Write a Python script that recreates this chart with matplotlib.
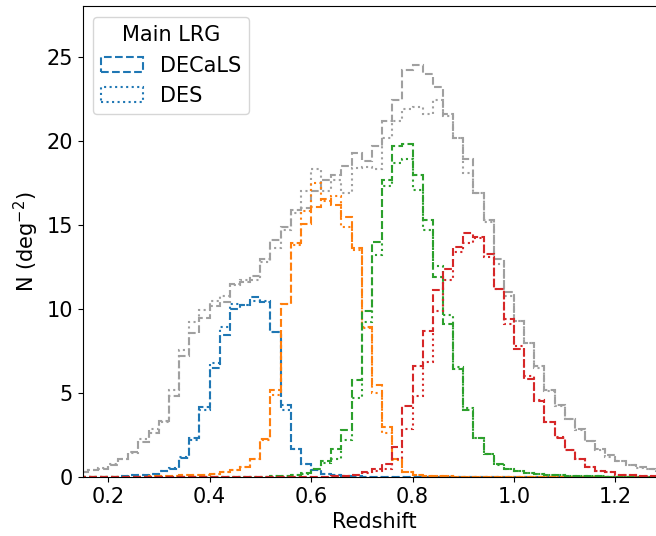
import numpy as np
import matplotlib
matplotlib.use('Agg')
import matplotlib.pyplot as plt

# --- bins: 0.02 wide redshift bins, left edges 0.14 ... 1.28 ---
z_lo, z_hi, dz = 0.14, 1.30, 0.02

# --- N(z) in deg^-2 (DECaLS = dashed, DES = dotted) ---
all_decals = [0.28, 0.42, 0.5, 0.7, 1.05, 1.5, 2.1, 2.65, 3.35, 4.8,
              7.2, 8.55, 9.45, 10.2, 10.4, 11.5, 11.6, 11.95, 12.95, 14.1,
              14.9, 15.9, 16.0, 17.0, 17.65, 18.0, 18.5, 19.25, 18.8, 19.7,
              21.2, 22.45, 24.2, 24.5, 24.0, 23.2, 21.6, 20.2, 18.9, 16.9,
              15.3, 13.0, 11.0, 9.3, 8.0, 6.6, 5.2, 4.3, 3.45, 2.85,
              2.15, 1.65, 1.3, 0.95, 0.7, 0.58, 0.45, 0.35]
all_des = [0.3, 0.42, 0.55, 0.8, 1.1, 1.45, 2.25, 2.85, 3.3, 5.2,
           7.55, 9.25, 9.95, 10.5, 10.8, 11.45, 11.7, 11.7, 12.8, 13.6,
           14.7, 15.7, 17.0, 18.3, 17.0, 17.65, 16.9, 18.4, 18.45, 18.3,
           20.2, 21.2, 21.9, 22.0, 21.6, 22.45, 21.5, 20.2, 18.1, 16.9,
           15.2, 12.7, 10.8, 9.3, 7.95, 6.5, 5.1, 4.25, 3.45, 2.8,
           2.15, 1.6, 1.2, 0.95, 0.7, 0.55, 0.45, 0.35]

bin1_decals = [0, 0, 0.01, 0.02, 0.05, 0.1, 0.15, 0.2, 0.35, 0.5,
               1.15, 2.3, 4.15, 6.5, 8.45, 10.0, 10.25, 10.7, 10.4, 8.6,
               4.3, 1.65, 0.8, 0.4, 0.2, 0.12, 0.08, 0.05, 0.03, 0.02,
               0.01, 0, 0, 0, 0, 0, 0, 0, 0, 0,
               0, 0, 0, 0, 0, 0, 0, 0, 0, 0,
               0, 0, 0, 0, 0, 0, 0, 0]
bin1_des = [0, 0, 0.01, 0.02, 0.05, 0.1, 0.15, 0.2, 0.35, 0.55,
            1.2, 2.2, 4.0, 6.8, 8.9, 10.3, 10.25, 10.45, 10.5, 8.65,
            4.0, 1.65, 0.75, 0.4, 0.2, 0.12, 0.08, 0.05, 0.03, 0.02,
            0.01, 0, 0, 0, 0, 0, 0, 0, 0, 0,
            0, 0, 0, 0, 0, 0, 0, 0, 0, 0,
            0, 0, 0, 0, 0, 0, 0, 0]

bin2_decals = [0, 0, 0, 0, 0.01, 0.02, 0.03, 0.04, 0.05, 0.07,
               0.1, 0.12, 0.15, 0.2, 0.28, 0.4, 0.6, 1.1, 2.25, 5.2,
               10.3, 13.9, 15.05, 16.05, 16.55, 16.2, 15.5, 13.6, 8.95, 5.45,
               3.0, 1.05, 0.3, 0.12, 0.08, 0.05, 0.04, 0.03, 0.03, 0.02,
               0.02, 0.02, 0.02, 0.01, 0.01, 0.01, 0.01, 0.01, 0.01, 0.01,
               0, 0, 0, 0, 0, 0, 0, 0]
bin2_des = [0, 0, 0, 0, 0.01, 0.02, 0.03, 0.04, 0.05, 0.07,
            0.1, 0.12, 0.15, 0.2, 0.28, 0.4, 0.6, 1.05, 2.2, 4.9,
            10.3, 13.8, 15.8, 17.5, 16.4, 16.7, 14.9, 13.5, 8.85, 5.0,
            2.6, 1.0, 0.3, 0.12, 0.08, 0.05, 0.04, 0.03, 0.03, 0.02,
            0.02, 0.02, 0.02, 0.01, 0.01, 0.01, 0.01, 0.01, 0.01, 0.01,
            0, 0, 0, 0, 0, 0, 0, 0]

bin3_decals = [0, 0, 0, 0, 0, 0, 0, 0, 0, 0,
               0, 0, 0, 0, 0, 0, 0.01, 0.02, 0.03, 0.04,
               0.06, 0.1, 0.25, 0.45, 0.95, 1.65, 2.8, 5.75, 9.85, 14.0,
               17.7, 19.7, 19.8, 17.95, 15.3, 11.9, 9.1, 6.4, 4.0, 2.3,
               1.4, 0.75, 0.5, 0.38, 0.25, 0.18, 0.12, 0.1, 0.08, 0.06,
               0.05, 0.04, 0.03, 0.03, 0.02, 0.02, 0.02, 0.01]
bin3_des = [0, 0, 0, 0, 0, 0, 0, 0, 0, 0,
            0, 0, 0, 0, 0, 0, 0.01, 0.02, 0.03, 0.04,
            0.06, 0.1, 0.2, 0.5, 0.85, 1.1, 2.2, 4.7, 9.2, 13.2,
            17.3, 18.7, 18.9, 17.1, 14.7, 12.55, 9.65, 6.55, 4.1, 2.3,
            1.35, 0.7, 0.5, 0.38, 0.25, 0.18, 0.12, 0.1, 0.08, 0.06,
            0.05, 0.04, 0.03, 0.03, 0.02, 0.02, 0.02, 0.01]

bin4_decals = [0, 0, 0, 0, 0, 0, 0, 0, 0, 0,
               0, 0, 0, 0, 0, 0, 0, 0, 0, 0,
               0, 0, 0.01, 0.02, 0.03, 0.05, 0.08, 0.12, 0.3, 0.45,
               0.8, 1.8, 4.2, 6.6, 8.7, 11.15, 12.4, 13.7, 14.5, 14.3,
               13.3, 11.2, 9.4, 7.6, 5.85, 4.55, 3.25, 2.35, 1.6, 1.07,
               0.62, 0.38, 0.28, 0.15, 0.1, 0.08, 0.06, 0.05]
bin4_des = [0, 0, 0, 0, 0, 0, 0, 0, 0, 0,
            0, 0, 0, 0, 0, 0, 0, 0, 0, 0,
            0, 0, 0.01, 0.02, 0.03, 0.05, 0.08, 0.12, 0.25, 0.35,
            0.5, 1.1, 2.85, 4.8, 6.85, 9.85, 11.75, 13.4, 13.9, 14.2,
            13.1, 11.2, 9.1, 7.8, 6.0, 4.6, 3.3, 2.4, 1.6, 1.05,
            0.6, 0.38, 0.28, 0.15, 0.1, 0.08, 0.06, 0.05]

edges = np.round(np.arange(z_lo, z_hi + dz / 2, dz), 2)
centers = 0.5 * (edges[:-1] + edges[1:])

series = [
    (all_decals, all_des, '#a0a0a0'),
    (bin1_decals, bin1_des, 'C0'),
    (bin2_decals, bin2_des, 'C1'),
    (bin3_decals, bin3_des, 'C2'),
    (bin4_decals, bin4_des, 'C3'),
]

plt.rcParams['font.size'] = 15

fig = plt.figure(figsize=(6.56, 5.36), dpi=100)
ax = fig.add_axes([0.126, 0.110, 0.8896, 0.878])

for decals, des, col in series:
    lab1 = 'DECaLS' if col == 'C0' else None
    lab2 = 'DES' if col == 'C0' else None
    ax.hist(centers, bins=edges, weights=decals, histtype='step',
            color=col, ls='--', lw=1.5, label=lab1)
    ax.hist(centers, bins=edges, weights=des, histtype='step',
            color=col, ls=':', lw=1.5, label=lab2)

ax.set_xlim(0.15, 1.30)
ax.set_ylim(0, 28)
ax.set_xlabel('Redshift')
ax.set_ylabel('N (deg$^{-2}$)')
ax.legend(title='Main LRG', loc='upper left', title_fontsize=15)

fig.savefig('out.png', dpi=100)
